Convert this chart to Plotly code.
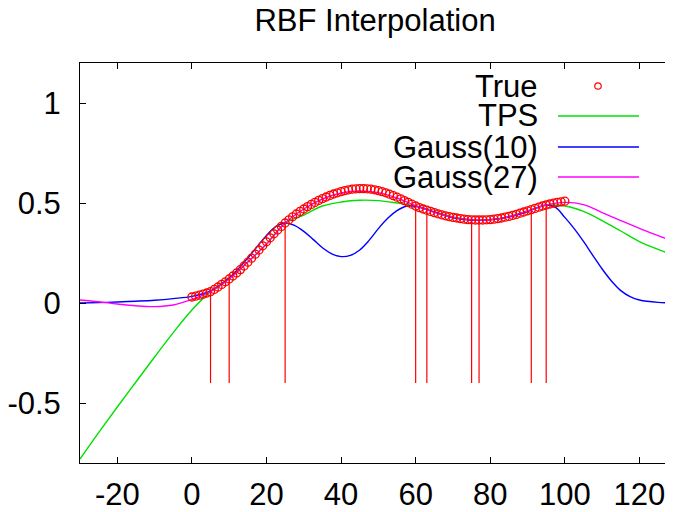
import plotly.graph_objects as go

# True function, sampled every 1 from 0 to 100
true_x = list(range(0, 101))
true_y = [
    0.030, 0.034, 0.039, 0.044, 0.050, 0.057, 0.068, 0.080, 0.093, 0.106,
    0.120, 0.135, 0.150, 0.167, 0.185, 0.204, 0.224, 0.244, 0.265, 0.286,
    0.306, 0.326, 0.346, 0.365, 0.383, 0.400, 0.416, 0.431, 0.445, 0.458,
    0.470, 0.482, 0.493, 0.503, 0.513, 0.522, 0.530, 0.538, 0.545, 0.551,
    0.557, 0.562, 0.566, 0.569, 0.571, 0.572, 0.572, 0.571, 0.569, 0.566,
    0.562, 0.557, 0.551, 0.544, 0.537, 0.529, 0.521, 0.512, 0.503, 0.494,
    0.485, 0.477, 0.470, 0.464, 0.458, 0.452, 0.446, 0.441, 0.436, 0.432,
    0.428, 0.425, 0.422, 0.419, 0.417, 0.416, 0.415, 0.415, 0.415, 0.416,
    0.417, 0.419, 0.422, 0.425, 0.429, 0.433, 0.438, 0.443, 0.449, 0.455,
    0.461, 0.467, 0.473, 0.479, 0.485, 0.490, 0.495, 0.499, 0.503, 0.506,
    0.509,
]

# sample locations (vertical red lines)
sample_x = [5, 10, 25, 60, 63, 75, 77, 91, 95]
sample_base = -0.4

# interpolants
grid_x = [-30, -25, -20, -15, -10, -5, 0, 5, 10, 15, 20, 25, 30, 35, 40, 45,
          50, 55, 60, 65, 70, 75, 80, 85, 90, 95, 100, 105, 110, 115, 120, 125, 130]
tps_y = [-0.78, -0.648, -0.52, -0.395, -0.27, -0.148, -0.035, 0.057, 0.125, 0.205,
         0.295, 0.40, 0.44, 0.485, 0.505, 0.514, 0.512, 0.500, 0.485, 0.456,
         0.430, 0.416, 0.417, 0.432, 0.460, 0.488, 0.485, 0.458, 0.412, 0.360,
         0.307, 0.268, 0.232]
gauss27_y = [0.015, 0.006, -0.005, -0.014, -0.018, -0.010, 0.018, 0.057, 0.12, 0.205,
             0.295, 0.40, 0.47, 0.52, 0.55, 0.56, 0.552, 0.525, 0.487, 0.453,
             0.428, 0.416, 0.416, 0.432, 0.46, 0.49, 0.503, 0.492, 0.452, 0.412,
             0.373, 0.337, 0.302]
gauss10_x = [-30, -25, -20, -15, -10, -5, 0, 5, 10, 15, 17.5, 20, 22.5, 25, 27.5,
             30, 32.5, 35, 37.5, 40, 42.5, 45, 47.5, 50, 52.5, 55, 57.5, 60, 65,
             70, 75, 80, 85, 90, 95, 97.5, 100, 102.5, 105, 107.5, 110, 112.5,
             115, 117.5, 120, 125, 130]
gauss10_y = [0.000, 0.002, 0.005, 0.009, 0.014, 0.022, 0.033, 0.060, 0.125, 0.225,
             0.282, 0.338, 0.382, 0.400, 0.388, 0.358, 0.318, 0.276, 0.246, 0.232,
             0.238, 0.265, 0.313, 0.372, 0.424, 0.462, 0.484, 0.484, 0.455, 0.426,
             0.414, 0.416, 0.430, 0.457, 0.490, 0.478, 0.428, 0.372, 0.308, 0.238,
             0.170, 0.110, 0.062, 0.032, 0.015, 0.003, 0.000]

GREEN = '#00e000'
BLUE = '#0000ff'
MAGENTA = '#ff00ff'
RED = '#ff0000'
FONT = 'Liberation Sans, Arial, sans-serif'

fig = go.Figure()

# vertical lines at sample points
vx, vy = [], []
for sx in sample_x:
    vx += [sx, sx, None]
    vy += [sample_base, true_y[true_x.index(sx)], None]
fig.add_trace(go.Scatter(x=vx, y=vy, mode='lines',
                         line=dict(color=RED, width=1.2), hoverinfo='skip'))

fig.add_trace(go.Scatter(x=grid_x, y=tps_y, mode='lines', name='TPS',
                         line=dict(color=GREEN, width=1.4, shape='spline', smoothing=1.0)))
fig.add_trace(go.Scatter(x=gauss10_x, y=gauss10_y, mode='lines', name='Gauss(10)',
                         line=dict(color=BLUE, width=1.4, shape='spline', smoothing=1.0)))
fig.add_trace(go.Scatter(x=grid_x, y=gauss27_y, mode='lines', name='Gauss(27)',
                         line=dict(color=MAGENTA, width=1.4, shape='spline', smoothing=1.0)))
fig.add_trace(go.Scatter(x=true_x, y=true_y, mode='markers', name='True',
                         marker=dict(symbol='circle-open', size=8, color=RED,
                                     line=dict(width=1.3))))

# legend drawn by hand: text right-aligned, sample to the right
leg_labels = ['True', 'TPS', 'Gauss(10)', 'Gauss(27)']
leg_colors = [RED, GREEN, BLUE, MAGENTA]
leg_rows = [0.9425, 0.8675, 0.79, 0.715]
for i, (lab, col, yy) in enumerate(zip(leg_labels, leg_colors, leg_rows)):
    fig.add_annotation(x=0.771, y=yy, xref='paper', yref='paper', text=lab,
                       showarrow=False, xanchor='right', yanchor='middle',
                       xshift=3, font=dict(size=31, color='black', family=FONT))
    if i == 0:
        fig.add_shape(type='circle', xref='paper', yref='paper',
                      x0=0.8735 - 0.0055, x1=0.8735 + 0.0055,
                      y0=yy - 0.008, y1=yy + 0.008,
                      line=dict(color=col, width=1.2))
    else:
        fig.add_shape(type='line', xref='paper', yref='paper',
                      x0=0.806, x1=0.9427, y0=yy, y1=yy,
                      line=dict(color=col, width=1.4))

# page body has an 8px margin, so the figure is a bit smaller than the window
fig.update_layout(
    width=665, height=504,
    margin=dict(l=72, r=0, t=55, b=49),
    paper_bgcolor='white', plot_bgcolor='white',
    showlegend=False,
    font=dict(family=FONT, size=31, color='black'),
    title=dict(text='RBF Interpolation', x=0.552, xanchor='center',
               y=0.975, yanchor='middle', font=dict(size=31)),
)
fig.update_xaxes(range=[-30, 129], tickvals=[-20, 0, 20, 40, 60, 80, 100, 120],
                 ticktext=['-20', '0', '20', '40', '60', '80', '100', '120'],
                 ticks='inside', ticklen=6, tickcolor='black', showline=True,
                 linecolor='black', linewidth=1, mirror='ticks', showgrid=False,
                 zeroline=False, ticklabelstandoff=4, automargin=False)
fig.update_yaxes(range=[-0.8, 1.2], tickvals=[-0.5, 0, 0.5, 1],
                 ticktext=['-0.5', '0', '0.5', '1'],
                 ticks='inside', ticklen=6, tickcolor='black', showline=True,
                 linecolor='black', linewidth=1, mirror='ticks', showgrid=False,
                 zeroline=False, ticklabelstandoff=12, automargin=False)

fig.write_html("out.html")
